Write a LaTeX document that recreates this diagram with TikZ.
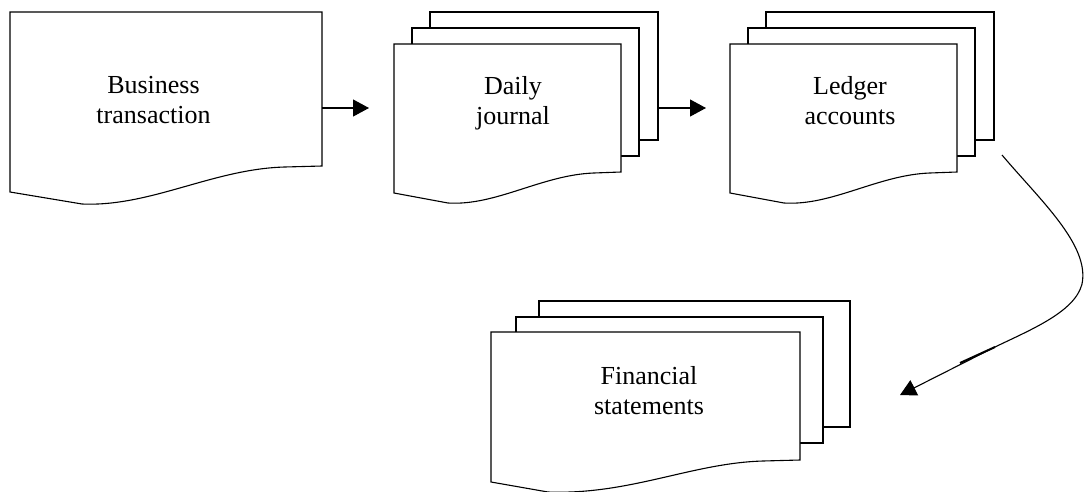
\documentclass[tikz,border=0pt]{standalone}
\usepackage{fontspec}
\setmainfont{Liberation Serif}
\usetikzlibrary{arrows.meta}
\tikzset{
  shp/.style={draw=black, line width=1.1pt, fill=white, line join=miter},
  lbl/.style={align=center, anchor=north, inner sep=0pt, font=\fontsize{26}{30}\selectfont},
  arr/.style={draw=black, line width=1.1pt, -{Triangle[length=16pt,width=17pt]}},
}
% doc shape: left, top, right, right-bottom, left-bottom, low-x, low-y
\newcommand{\docshp}[7]{%
  \path[shp] (#1,#5) -- (#1,#2) -- (#3,#2) -- (#3,#4) -- ({#3-0.12*(#3-#1)},{#4+1})
    .. controls ({#3-0.35*(#3-#1)},{#4+3}) and ({#1+0.45*(#3-#1)},{#7+3}) .. (#6,#7) -- cycle;}
\begin{document}
\begin{tikzpicture}[x=1pt,y=-1pt]
\useasboundingbox (0,0) rectangle (1084,491);
% Business transaction
\docshp{10}{12}{322}{166}{192}{82}{204}
\node[lbl] (bt) at (153.5,76.5) {Business\\transaction};
% Daily journal
\path[shp] (430,12) rectangle (658,140);
\path[shp] (412,28) rectangle (639,156);
\docshp{394}{44}{621}{172}{193}{448}{203}
\node[lbl] (dj) at (513,76.5) {Daily\\journal};
% Ledger accounts
\path[shp] (766,12) rectangle (994,140);
\path[shp] (748,28) rectangle (975,156);
\docshp{730}{44}{957}{172}{193}{784}{203}
\node[lbl] (la) at (850,76.5) {Ledger\\accounts};
% Financial statements
\path[shp] (539,301) rectangle (850,427);
\path[shp] (516,317) rectangle (823,443);
\docshp{491}{332}{800}{460}{482}{548}{492}
\node[lbl] (fs) at (649,366.5) {Financial\\statements};
% connectors
\coordinate (a1s) at (322,108);
\coordinate (a1e) at (369,108);
\coordinate (a2s) at (658,108);
\coordinate (a2e) at (706,108);
\coordinate (c1) at (1002,155);
\coordinate (c2) at (1082,284);
\coordinate (c3) at (995,347);
\coordinate (c4) at (900,395);
\coordinate (c5) at (960,363);
\draw[arr] (a1s) -- (a1e);
\draw[arr] (a2s) -- (a2e);
\draw[arr] (c1) .. controls (1040,200) and (1090,245) .. (c2)
  .. controls (1075,312) and (1030,330) .. (c3) -- (c4);
\draw[line width=2pt] (c3) -- (c5);
\end{tikzpicture}
\end{document}
